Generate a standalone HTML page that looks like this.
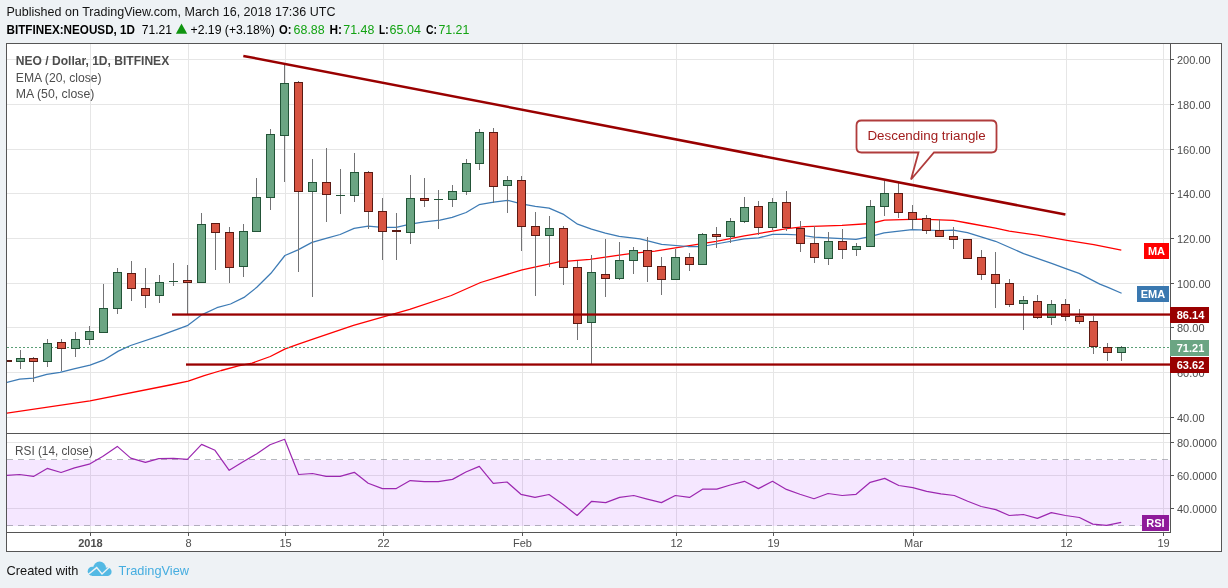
<!DOCTYPE html><html><head><meta charset="utf-8"><style>html,body{margin:0;padding:0;background:#eef2f5;}svg{display:block;will-change:transform;}text{font-family:"Liberation Sans",sans-serif;}</style></head><body>
<svg width="1228" height="588" viewBox="0 0 1228 588" shape-rendering="auto">
<rect x="0" y="0" width="1228" height="588" fill="#eef2f5"/>
<rect x="6" y="43" width="1216" height="509" fill="#ffffff"/>
<rect x="90" y="44" width="1" height="488" fill="#e6e6e6"/>
<rect x="188" y="44" width="1" height="488" fill="#e6e6e6"/>
<rect x="285" y="44" width="1" height="488" fill="#e6e6e6"/>
<rect x="383" y="44" width="1" height="488" fill="#e6e6e6"/>
<rect x="522" y="44" width="1" height="488" fill="#e6e6e6"/>
<rect x="676" y="44" width="1" height="488" fill="#e6e6e6"/>
<rect x="773" y="44" width="1" height="488" fill="#e6e6e6"/>
<rect x="913" y="44" width="1" height="488" fill="#e6e6e6"/>
<rect x="1066" y="44" width="1" height="488" fill="#e6e6e6"/>
<rect x="1163" y="44" width="1" height="488" fill="#e6e6e6"/>
<rect x="7" y="59" width="1163" height="1" fill="#e6e6e6"/>
<rect x="7" y="104" width="1163" height="1" fill="#e6e6e6"/>
<rect x="7" y="149" width="1163" height="1" fill="#e6e6e6"/>
<rect x="7" y="193" width="1163" height="1" fill="#e6e6e6"/>
<rect x="7" y="238" width="1163" height="1" fill="#e6e6e6"/>
<rect x="7" y="283" width="1163" height="1" fill="#e6e6e6"/>
<rect x="7" y="327" width="1163" height="1" fill="#e6e6e6"/>
<rect x="7" y="372" width="1163" height="1" fill="#e6e6e6"/>
<rect x="7" y="417" width="1163" height="1" fill="#e6e6e6"/>
<rect x="7" y="442" width="1163" height="1" fill="#e6e6e6"/>
<rect x="7" y="475" width="1163" height="1" fill="#e6e6e6"/>
<rect x="7" y="508" width="1163" height="1" fill="#e6e6e6"/>
<rect x="7" y="460" width="1163" height="66" fill="#9915ff" fill-opacity="0.1"/>
<line x1="7" y1="459.5" x2="1170" y2="459.5" stroke="#787b86" stroke-opacity="0.55" stroke-width="1" stroke-dasharray="6,5"/>
<line x1="7" y1="525.5" x2="1170" y2="525.5" stroke="#787b86" stroke-opacity="0.55" stroke-width="1" stroke-dasharray="6,5"/>
<defs><clipPath id="cm"><rect x="7" y="44" width="1163" height="389"/></clipPath><clipPath id="cr"><rect x="7" y="434" width="1163" height="98"/></clipPath></defs>
<g clip-path="url(#cm)">
<polyline points="6.9,413.2 90.0,400.9 170.0,385.0 188.2,381.1 204.2,375.6 221.3,370.5 238.4,365.9 252.1,363.1 270.3,356.5 285.2,348.8 297.7,344.3 314.4,338.7 353.5,325.3 409.7,309.4 451.3,295.5 480.6,282.5 522.1,269.8 558.8,261.8 590.0,259.3 632.0,253.3 655.0,251.1 688.0,245.8 716.2,241.4 744.3,235.8 772.6,231.2 786.6,228.7 805.0,226.6 842.0,225.3 870.6,223.5 884.6,220.2 920.0,219.1 953.2,220.4 967.4,223.0 995.5,228.1 1009.3,231.1 1037.3,235.2 1067.0,240.4 1093.8,244.7 1121.3,250.1" fill="none" stroke="#ff0000" stroke-width="1.3" stroke-linejoin="round"/>
<polyline points="6.9,382.4 19.7,379.2 33.3,378.2 46.8,374.3 60.0,372.3 73.9,368.9 90.0,365.2 103.5,360.2 118.3,351.1 130.6,345.5 160.2,335.6 187.3,325.7 202.1,314.6 216.9,307.7 230.5,304.0 244.0,297.4 256.8,287.3 270.9,273.3 284.9,255.5 298.0,249.9 312.0,242.4 326.1,238.3 340.1,234.5 354.1,228.4 368.2,226.1 382.2,227.4 396.2,227.4 410.2,224.2 424.3,221.8 440.0,220.1 452.2,217.4 466.1,212.5 479.1,204.7 493.7,202.2 507.6,200.3 521.4,203.8 535.3,206.3 549.1,208.2 563.0,214.1 577.6,224.2 591.5,229.1 605.3,233.2 619.2,236.4 640.0,238.9 661.6,244.3 688.0,246.5 702.0,246.5 716.0,244.0 744.0,238.9 758.6,237.9 772.6,234.3 786.6,234.3 800.0,235.0 814.0,237.2 856.0,239.3 870.0,236.7 884.0,232.9 912.0,229.6 940.0,230.5 953.2,230.1 967.4,232.7 995.5,241.3 1023.6,253.6 1051.6,263.3 1066.5,268.8 1079.1,273.4 1099.8,284.1 1107.4,287.1 1121.6,293.3" fill="none" stroke="#3d7bb5" stroke-width="1.25" stroke-linejoin="round"/>
<line x1="7" y1="347.5" x2="1170" y2="347.5" stroke="#5a9f76" stroke-width="1" stroke-dasharray="2,2"/>
<rect x="7" y="360" width="1" height="2" fill="#737375"/>
<rect x="3" y="360" width="9" height="2" fill="#5b1a13"/>
<rect x="20" y="350" width="1" height="19" fill="#737375"/>
<rect x="16" y="358" width="9" height="4" fill="#225437"/>
<rect x="17" y="359" width="7" height="2" fill="#6ba583"/>
<rect x="33" y="357" width="1" height="25" fill="#737375"/>
<rect x="29" y="358" width="9" height="4" fill="#5b1a13"/>
<rect x="30" y="359" width="7" height="2" fill="#d75442"/>
<rect x="47" y="339" width="1" height="28" fill="#737375"/>
<rect x="43" y="343" width="9" height="19" fill="#225437"/>
<rect x="44" y="344" width="7" height="17" fill="#6ba583"/>
<rect x="61" y="339" width="1" height="32" fill="#737375"/>
<rect x="57" y="342" width="9" height="7" fill="#5b1a13"/>
<rect x="58" y="343" width="7" height="5" fill="#d75442"/>
<rect x="75" y="332" width="1" height="25" fill="#737375"/>
<rect x="71" y="339" width="9" height="10" fill="#225437"/>
<rect x="72" y="340" width="7" height="8" fill="#6ba583"/>
<rect x="89" y="326" width="1" height="19" fill="#737375"/>
<rect x="85" y="331" width="9" height="9" fill="#225437"/>
<rect x="86" y="332" width="7" height="7" fill="#6ba583"/>
<rect x="103" y="284" width="1" height="49" fill="#737375"/>
<rect x="99" y="308" width="9" height="25" fill="#225437"/>
<rect x="100" y="309" width="7" height="23" fill="#6ba583"/>
<rect x="117" y="268" width="1" height="46" fill="#737375"/>
<rect x="113" y="272" width="9" height="37" fill="#225437"/>
<rect x="114" y="273" width="7" height="35" fill="#6ba583"/>
<rect x="131" y="261" width="1" height="40" fill="#737375"/>
<rect x="127" y="273" width="9" height="16" fill="#5b1a13"/>
<rect x="128" y="274" width="7" height="14" fill="#d75442"/>
<rect x="145" y="268" width="1" height="40" fill="#737375"/>
<rect x="141" y="288" width="9" height="8" fill="#5b1a13"/>
<rect x="142" y="289" width="7" height="6" fill="#d75442"/>
<rect x="159" y="275" width="1" height="28" fill="#737375"/>
<rect x="155" y="282" width="9" height="14" fill="#225437"/>
<rect x="156" y="283" width="7" height="12" fill="#6ba583"/>
<rect x="173" y="263" width="1" height="23" fill="#737375"/>
<rect x="169" y="281" width="9" height="1" fill="#225437"/>
<rect x="187" y="265" width="1" height="49" fill="#737375"/>
<rect x="183" y="280" width="9" height="3" fill="#5b1a13"/>
<rect x="184" y="281" width="7" height="1" fill="#d75442"/>
<rect x="201" y="213" width="1" height="70" fill="#737375"/>
<rect x="197" y="224" width="9" height="59" fill="#225437"/>
<rect x="198" y="225" width="7" height="57" fill="#6ba583"/>
<rect x="215" y="223" width="1" height="47" fill="#737375"/>
<rect x="211" y="223" width="9" height="10" fill="#5b1a13"/>
<rect x="212" y="224" width="7" height="8" fill="#d75442"/>
<rect x="229" y="227" width="1" height="56" fill="#737375"/>
<rect x="225" y="232" width="9" height="36" fill="#5b1a13"/>
<rect x="226" y="233" width="7" height="34" fill="#d75442"/>
<rect x="243" y="224" width="1" height="53" fill="#737375"/>
<rect x="239" y="231" width="9" height="36" fill="#225437"/>
<rect x="240" y="232" width="7" height="34" fill="#6ba583"/>
<rect x="256" y="178" width="1" height="54" fill="#737375"/>
<rect x="252" y="197" width="9" height="35" fill="#225437"/>
<rect x="253" y="198" width="7" height="33" fill="#6ba583"/>
<rect x="270" y="129" width="1" height="81" fill="#737375"/>
<rect x="266" y="134" width="9" height="64" fill="#225437"/>
<rect x="267" y="135" width="7" height="62" fill="#6ba583"/>
<rect x="284" y="64" width="1" height="118" fill="#737375"/>
<rect x="280" y="83" width="9" height="53" fill="#225437"/>
<rect x="281" y="84" width="7" height="51" fill="#6ba583"/>
<rect x="298" y="81" width="1" height="191" fill="#737375"/>
<rect x="294" y="82" width="9" height="110" fill="#5b1a13"/>
<rect x="295" y="83" width="7" height="108" fill="#d75442"/>
<rect x="312" y="159" width="1" height="138" fill="#737375"/>
<rect x="308" y="182" width="9" height="10" fill="#225437"/>
<rect x="309" y="183" width="7" height="8" fill="#6ba583"/>
<rect x="326" y="148" width="1" height="74" fill="#737375"/>
<rect x="322" y="182" width="9" height="13" fill="#5b1a13"/>
<rect x="323" y="183" width="7" height="11" fill="#d75442"/>
<rect x="340" y="169" width="1" height="45" fill="#737375"/>
<rect x="336" y="195" width="9" height="1" fill="#225437"/>
<rect x="354" y="153" width="1" height="49" fill="#737375"/>
<rect x="350" y="172" width="9" height="24" fill="#225437"/>
<rect x="351" y="173" width="7" height="22" fill="#6ba583"/>
<rect x="368" y="171" width="1" height="58" fill="#737375"/>
<rect x="364" y="172" width="9" height="40" fill="#5b1a13"/>
<rect x="365" y="173" width="7" height="38" fill="#d75442"/>
<rect x="382" y="198" width="1" height="62" fill="#737375"/>
<rect x="378" y="211" width="9" height="21" fill="#5b1a13"/>
<rect x="379" y="212" width="7" height="19" fill="#d75442"/>
<rect x="396" y="213" width="1" height="47" fill="#737375"/>
<rect x="392" y="230" width="9" height="2" fill="#5b1a13"/>
<rect x="410" y="175" width="1" height="69" fill="#737375"/>
<rect x="406" y="198" width="9" height="35" fill="#225437"/>
<rect x="407" y="199" width="7" height="33" fill="#6ba583"/>
<rect x="424" y="178" width="1" height="29" fill="#737375"/>
<rect x="420" y="198" width="9" height="3" fill="#5b1a13"/>
<rect x="421" y="199" width="7" height="1" fill="#d75442"/>
<rect x="438" y="190" width="1" height="39" fill="#737375"/>
<rect x="434" y="199" width="9" height="1" fill="#225437"/>
<rect x="452" y="185" width="1" height="22" fill="#737375"/>
<rect x="448" y="191" width="9" height="9" fill="#225437"/>
<rect x="449" y="192" width="7" height="7" fill="#6ba583"/>
<rect x="466" y="159" width="1" height="36" fill="#737375"/>
<rect x="462" y="163" width="9" height="29" fill="#225437"/>
<rect x="463" y="164" width="7" height="27" fill="#6ba583"/>
<rect x="479" y="129" width="1" height="41" fill="#737375"/>
<rect x="475" y="132" width="9" height="32" fill="#225437"/>
<rect x="476" y="133" width="7" height="30" fill="#6ba583"/>
<rect x="493" y="128" width="1" height="75" fill="#737375"/>
<rect x="489" y="132" width="9" height="55" fill="#5b1a13"/>
<rect x="490" y="133" width="7" height="53" fill="#d75442"/>
<rect x="507" y="176" width="1" height="37" fill="#737375"/>
<rect x="503" y="180" width="9" height="6" fill="#225437"/>
<rect x="504" y="181" width="7" height="4" fill="#6ba583"/>
<rect x="521" y="176" width="1" height="75" fill="#737375"/>
<rect x="517" y="180" width="9" height="47" fill="#5b1a13"/>
<rect x="518" y="181" width="7" height="45" fill="#d75442"/>
<rect x="535" y="212" width="1" height="84" fill="#737375"/>
<rect x="531" y="226" width="9" height="10" fill="#5b1a13"/>
<rect x="532" y="227" width="7" height="8" fill="#d75442"/>
<rect x="549" y="216" width="1" height="51" fill="#737375"/>
<rect x="545" y="228" width="9" height="8" fill="#225437"/>
<rect x="546" y="229" width="7" height="6" fill="#6ba583"/>
<rect x="563" y="226" width="1" height="59" fill="#737375"/>
<rect x="559" y="228" width="9" height="40" fill="#5b1a13"/>
<rect x="560" y="229" width="7" height="38" fill="#d75442"/>
<rect x="577" y="261" width="1" height="79" fill="#737375"/>
<rect x="573" y="267" width="9" height="57" fill="#5b1a13"/>
<rect x="574" y="268" width="7" height="55" fill="#d75442"/>
<rect x="591" y="255" width="1" height="109" fill="#737375"/>
<rect x="587" y="272" width="9" height="51" fill="#225437"/>
<rect x="588" y="273" width="7" height="49" fill="#6ba583"/>
<rect x="605" y="239" width="1" height="58" fill="#737375"/>
<rect x="601" y="274" width="9" height="5" fill="#5b1a13"/>
<rect x="602" y="275" width="7" height="3" fill="#d75442"/>
<rect x="619" y="242" width="1" height="38" fill="#737375"/>
<rect x="615" y="260" width="9" height="19" fill="#225437"/>
<rect x="616" y="261" width="7" height="17" fill="#6ba583"/>
<rect x="633" y="247" width="1" height="27" fill="#737375"/>
<rect x="629" y="250" width="9" height="11" fill="#225437"/>
<rect x="630" y="251" width="7" height="9" fill="#6ba583"/>
<rect x="647" y="237" width="1" height="45" fill="#737375"/>
<rect x="643" y="250" width="9" height="17" fill="#5b1a13"/>
<rect x="644" y="251" width="7" height="15" fill="#d75442"/>
<rect x="661" y="257" width="1" height="38" fill="#737375"/>
<rect x="657" y="266" width="9" height="14" fill="#5b1a13"/>
<rect x="658" y="267" width="7" height="12" fill="#d75442"/>
<rect x="675" y="249" width="1" height="31" fill="#737375"/>
<rect x="671" y="257" width="9" height="23" fill="#225437"/>
<rect x="672" y="258" width="7" height="21" fill="#6ba583"/>
<rect x="689" y="253" width="1" height="18" fill="#737375"/>
<rect x="685" y="257" width="9" height="8" fill="#5b1a13"/>
<rect x="686" y="258" width="7" height="6" fill="#d75442"/>
<rect x="702" y="233" width="1" height="32" fill="#737375"/>
<rect x="698" y="234" width="9" height="31" fill="#225437"/>
<rect x="699" y="235" width="7" height="29" fill="#6ba583"/>
<rect x="716" y="227" width="1" height="21" fill="#737375"/>
<rect x="712" y="234" width="9" height="3" fill="#5b1a13"/>
<rect x="713" y="235" width="7" height="1" fill="#d75442"/>
<rect x="730" y="218" width="1" height="25" fill="#737375"/>
<rect x="726" y="221" width="9" height="16" fill="#225437"/>
<rect x="727" y="222" width="7" height="14" fill="#6ba583"/>
<rect x="744" y="197" width="1" height="26" fill="#737375"/>
<rect x="740" y="207" width="9" height="15" fill="#225437"/>
<rect x="741" y="208" width="7" height="13" fill="#6ba583"/>
<rect x="758" y="201" width="1" height="34" fill="#737375"/>
<rect x="754" y="206" width="9" height="22" fill="#5b1a13"/>
<rect x="755" y="207" width="7" height="20" fill="#d75442"/>
<rect x="772" y="198" width="1" height="32" fill="#737375"/>
<rect x="768" y="202" width="9" height="26" fill="#225437"/>
<rect x="769" y="203" width="7" height="24" fill="#6ba583"/>
<rect x="786" y="191" width="1" height="40" fill="#737375"/>
<rect x="782" y="202" width="9" height="26" fill="#5b1a13"/>
<rect x="783" y="203" width="7" height="24" fill="#d75442"/>
<rect x="800" y="221" width="1" height="31" fill="#737375"/>
<rect x="796" y="228" width="9" height="16" fill="#5b1a13"/>
<rect x="797" y="229" width="7" height="14" fill="#d75442"/>
<rect x="814" y="226" width="1" height="37" fill="#737375"/>
<rect x="810" y="243" width="9" height="15" fill="#5b1a13"/>
<rect x="811" y="244" width="7" height="13" fill="#d75442"/>
<rect x="828" y="232" width="1" height="33" fill="#737375"/>
<rect x="824" y="241" width="9" height="18" fill="#225437"/>
<rect x="825" y="242" width="7" height="16" fill="#6ba583"/>
<rect x="842" y="229" width="1" height="30" fill="#737375"/>
<rect x="838" y="241" width="9" height="9" fill="#5b1a13"/>
<rect x="839" y="242" width="7" height="7" fill="#d75442"/>
<rect x="856" y="243" width="1" height="13" fill="#737375"/>
<rect x="852" y="246" width="9" height="4" fill="#225437"/>
<rect x="853" y="247" width="7" height="2" fill="#6ba583"/>
<rect x="870" y="200" width="1" height="47" fill="#737375"/>
<rect x="866" y="206" width="9" height="41" fill="#225437"/>
<rect x="867" y="207" width="7" height="39" fill="#6ba583"/>
<rect x="884" y="181" width="1" height="35" fill="#737375"/>
<rect x="880" y="193" width="9" height="14" fill="#225437"/>
<rect x="881" y="194" width="7" height="12" fill="#6ba583"/>
<rect x="898" y="183" width="1" height="35" fill="#737375"/>
<rect x="894" y="193" width="9" height="20" fill="#5b1a13"/>
<rect x="895" y="194" width="7" height="18" fill="#d75442"/>
<rect x="912" y="205" width="1" height="24" fill="#737375"/>
<rect x="908" y="212" width="9" height="8" fill="#5b1a13"/>
<rect x="909" y="213" width="7" height="6" fill="#d75442"/>
<rect x="926" y="215" width="1" height="19" fill="#737375"/>
<rect x="922" y="218" width="9" height="13" fill="#5b1a13"/>
<rect x="923" y="219" width="7" height="11" fill="#d75442"/>
<rect x="939" y="219" width="1" height="18" fill="#737375"/>
<rect x="935" y="230" width="9" height="7" fill="#5b1a13"/>
<rect x="936" y="231" width="7" height="5" fill="#d75442"/>
<rect x="953" y="227" width="1" height="22" fill="#737375"/>
<rect x="949" y="236" width="9" height="4" fill="#5b1a13"/>
<rect x="950" y="237" width="7" height="2" fill="#d75442"/>
<rect x="967" y="239" width="1" height="20" fill="#737375"/>
<rect x="963" y="239" width="9" height="20" fill="#5b1a13"/>
<rect x="964" y="240" width="7" height="18" fill="#d75442"/>
<rect x="981" y="250" width="1" height="30" fill="#737375"/>
<rect x="977" y="257" width="9" height="18" fill="#5b1a13"/>
<rect x="978" y="258" width="7" height="16" fill="#d75442"/>
<rect x="995" y="252" width="1" height="56" fill="#737375"/>
<rect x="991" y="274" width="9" height="10" fill="#5b1a13"/>
<rect x="992" y="275" width="7" height="8" fill="#d75442"/>
<rect x="1009" y="279" width="1" height="28" fill="#737375"/>
<rect x="1005" y="283" width="9" height="22" fill="#5b1a13"/>
<rect x="1006" y="284" width="7" height="20" fill="#d75442"/>
<rect x="1023" y="296" width="1" height="34" fill="#737375"/>
<rect x="1019" y="300" width="9" height="4" fill="#225437"/>
<rect x="1020" y="301" width="7" height="2" fill="#6ba583"/>
<rect x="1037" y="295" width="1" height="24" fill="#737375"/>
<rect x="1033" y="301" width="9" height="17" fill="#5b1a13"/>
<rect x="1034" y="302" width="7" height="15" fill="#d75442"/>
<rect x="1051" y="300" width="1" height="25" fill="#737375"/>
<rect x="1047" y="304" width="9" height="14" fill="#225437"/>
<rect x="1048" y="305" width="7" height="12" fill="#6ba583"/>
<rect x="1065" y="299" width="1" height="22" fill="#737375"/>
<rect x="1061" y="304" width="9" height="13" fill="#5b1a13"/>
<rect x="1062" y="305" width="7" height="11" fill="#d75442"/>
<rect x="1079" y="309" width="1" height="15" fill="#737375"/>
<rect x="1075" y="316" width="9" height="6" fill="#5b1a13"/>
<rect x="1076" y="317" width="7" height="4" fill="#d75442"/>
<rect x="1093" y="316" width="1" height="38" fill="#737375"/>
<rect x="1089" y="321" width="9" height="26" fill="#5b1a13"/>
<rect x="1090" y="322" width="7" height="24" fill="#d75442"/>
<rect x="1107" y="343" width="1" height="18" fill="#737375"/>
<rect x="1103" y="347" width="9" height="6" fill="#5b1a13"/>
<rect x="1104" y="348" width="7" height="4" fill="#d75442"/>
<rect x="1121" y="346" width="1" height="15" fill="#737375"/>
<rect x="1117" y="347" width="9" height="6" fill="#225437"/>
<rect x="1118" y="348" width="7" height="4" fill="#6ba583"/>
<rect x="172" y="313.4" width="998" height="2.3" fill="#990000"/>
<rect x="186" y="363.4" width="984" height="2.3" fill="#990000"/>
<line x1="243.3" y1="55.9" x2="1065.4" y2="214.5" stroke="#990000" stroke-width="2.5" stroke-linecap="butt"/>
</g>
<path d="M861.5,120.5 H991.5 Q996.5,120.5 996.5,125.5 V147.5 Q996.5,152.5 991.5,152.5 H934 L911,179.5 L918.5,152.5 H861.5 Q856.5,152.5 856.5,147.5 V125.5 Q856.5,120.5 861.5,120.5 Z" fill="none" stroke="#b03c3c" stroke-width="1.8" stroke-linejoin="miter"/>
<text x="867.4" y="139.7" font-size="12" fill="#a11d1d" textLength="118.4" lengthAdjust="spacingAndGlyphs">Descending triangle</text>
<g clip-path="url(#cr)">
<polyline points="6.8,475.4 19.5,474.5 33.5,476.4 47.2,468.4 61.1,472.5 74.5,467.9 89.2,464.2 102.6,456.4 117.3,446.4 130.7,458.1 145.4,462.3 158.8,458.6 173.5,458.3 187.4,459.3 201.6,444.4 215.0,450.3 229.2,470.3 243.1,461.8 256.5,453.9 270.0,444.7 284.6,439.3 298.6,474.5 312.5,473.5 326.2,476.4 340.1,476.4 354.3,472.3 368.2,483.3 382.4,488.6 396.3,488.6 410.2,480.6 424.4,481.6 438.3,481.6 452.5,479.4 465.9,472.0 479.3,466.4 493.3,483.3 507.0,482.0 520.9,494.3 535.0,497.4 549.0,494.5 563.2,504.5 577.1,515.5 591.7,501.3 605.7,502.6 619.6,497.4 633.8,495.5 647.2,499.1 661.4,502.6 675.3,495.5 689.5,497.4 702.9,489.1 716.8,489.1 730.3,485.0 744.4,481.3 758.4,488.6 772.5,481.3 786.4,489.4 799.9,494.3 814.0,498.7 828.0,493.5 842.2,495.5 856.1,494.3 870.2,482.3 884.7,478.4 898.8,485.5 912.8,487.7 926.7,491.3 940.9,493.8 954.3,495.5 967.7,501.3 981.2,506.5 995.8,509.6 1009.3,515.5 1023.4,514.5 1037.4,518.4 1051.3,512.6 1065.5,515.5 1079.4,517.5 1092.8,524.1 1106.5,525.3 1121.2,522.4" fill="none" stroke="#9c27b0" stroke-width="1.2" stroke-linejoin="round"/>
</g>
<rect x="6" y="43" width="1216" height="1" fill="#555555"/>
<rect x="6" y="551" width="1216" height="1" fill="#555555"/>
<rect x="6" y="43" width="1" height="509" fill="#555555"/>
<rect x="1221" y="43" width="1" height="509" fill="#555555"/>
<rect x="1170" y="43" width="1" height="490" fill="#555555"/>
<rect x="6" y="433" width="1165" height="1" fill="#555555"/>
<rect x="6" y="532" width="1165" height="1" fill="#555555"/>
<rect x="1171" y="59" width="3" height="1" fill="#555555"/>
<text x="1177" y="64.0" font-size="11" fill="#4d4d4d">200.00</text>
<rect x="1171" y="104" width="3" height="1" fill="#555555"/>
<text x="1177" y="109.0" font-size="11" fill="#4d4d4d">180.00</text>
<rect x="1171" y="149" width="3" height="1" fill="#555555"/>
<text x="1177" y="154.0" font-size="11" fill="#4d4d4d">160.00</text>
<rect x="1171" y="193" width="3" height="1" fill="#555555"/>
<text x="1177" y="198.0" font-size="11" fill="#4d4d4d">140.00</text>
<rect x="1171" y="238" width="3" height="1" fill="#555555"/>
<text x="1177" y="243.0" font-size="11" fill="#4d4d4d">120.00</text>
<rect x="1171" y="283" width="3" height="1" fill="#555555"/>
<text x="1177" y="288.0" font-size="11" fill="#4d4d4d">100.00</text>
<rect x="1171" y="327" width="3" height="1" fill="#555555"/>
<text x="1177" y="332.0" font-size="11" fill="#4d4d4d">80.00</text>
<rect x="1171" y="372" width="3" height="1" fill="#555555"/>
<text x="1177" y="377.0" font-size="11" fill="#4d4d4d">60.00</text>
<rect x="1171" y="417" width="3" height="1" fill="#555555"/>
<text x="1177" y="422.0" font-size="11" fill="#4d4d4d">40.00</text>
<rect x="1171" y="442" width="3" height="1" fill="#555555"/>
<text x="1177" y="447.0" font-size="11" fill="#4d4d4d">80.0000</text>
<rect x="1171" y="475" width="3" height="1" fill="#555555"/>
<text x="1177" y="480.0" font-size="11" fill="#4d4d4d">60.0000</text>
<rect x="1171" y="508" width="3" height="1" fill="#555555"/>
<text x="1177" y="513.0" font-size="11" fill="#4d4d4d">40.0000</text>
<rect x="90" y="533" width="1" height="3" fill="#555555"/>
<text x="90.5" y="546.8" font-size="11" fill="#4d4d4d" text-anchor="middle" font-weight="bold">2018</text>
<rect x="188" y="533" width="1" height="3" fill="#555555"/>
<text x="188.5" y="546.8" font-size="11" fill="#4d4d4d" text-anchor="middle">8</text>
<rect x="285" y="533" width="1" height="3" fill="#555555"/>
<text x="285.5" y="546.8" font-size="11" fill="#4d4d4d" text-anchor="middle">15</text>
<rect x="383" y="533" width="1" height="3" fill="#555555"/>
<text x="383.5" y="546.8" font-size="11" fill="#4d4d4d" text-anchor="middle">22</text>
<rect x="522" y="533" width="1" height="3" fill="#555555"/>
<text x="522.5" y="546.8" font-size="11" fill="#4d4d4d" text-anchor="middle">Feb</text>
<rect x="676" y="533" width="1" height="3" fill="#555555"/>
<text x="676.5" y="546.8" font-size="11" fill="#4d4d4d" text-anchor="middle">12</text>
<rect x="773" y="533" width="1" height="3" fill="#555555"/>
<text x="773.5" y="546.8" font-size="11" fill="#4d4d4d" text-anchor="middle">19</text>
<rect x="913" y="533" width="1" height="3" fill="#555555"/>
<text x="913.5" y="546.8" font-size="11" fill="#4d4d4d" text-anchor="middle">Mar</text>
<rect x="1066" y="533" width="1" height="3" fill="#555555"/>
<text x="1066.5" y="546.8" font-size="11" fill="#4d4d4d" text-anchor="middle">12</text>
<rect x="1163" y="533" width="1" height="3" fill="#555555"/>
<text x="1163.5" y="546.8" font-size="11" fill="#4d4d4d" text-anchor="middle">19</text>
<rect x="1144" y="243" width="25" height="16" fill="#ff0000"/>
<text x="1156.5" y="255.0" font-size="11" font-weight="bold" fill="#ffffff" text-anchor="middle">MA</text>
<rect x="1137" y="286" width="32" height="16" fill="#3a78b0"/>
<text x="1153.0" y="298.0" font-size="11" font-weight="bold" fill="#ffffff" text-anchor="middle">EMA</text>
<rect x="1170" y="307" width="39" height="16" fill="#990000"/>
<text x="1190.5" y="319.0" font-size="11" font-weight="bold" fill="#ffffff" text-anchor="middle">86.14</text>
<rect x="1170" y="340" width="39" height="16" fill="#6ba583"/>
<text x="1190.5" y="352.0" font-size="11" font-weight="bold" fill="#ffffff" text-anchor="middle">71.21</text>
<rect x="1170" y="357" width="39" height="16" fill="#990000"/>
<text x="1190.5" y="369.0" font-size="11" font-weight="bold" fill="#ffffff" text-anchor="middle">63.62</text>
<rect x="1142" y="515" width="27" height="16" fill="#8e1a9a"/>
<text x="1155.5" y="527.0" font-size="11" font-weight="bold" fill="#ffffff" text-anchor="middle">RSI</text>
<text x="15.8" y="64.9" font-size="12" font-weight="bold" fill="#4d4d4d" textLength="153.4" lengthAdjust="spacingAndGlyphs">NEO / Dollar, 1D, BITFINEX</text>
<text x="15.8" y="81.9" font-size="12" fill="#4d4d4d" textLength="85.8" lengthAdjust="spacingAndGlyphs">EMA (20, close)</text>
<text x="15.8" y="98.1" font-size="12" fill="#4d4d4d" textLength="78.6" lengthAdjust="spacingAndGlyphs">MA (50, close)</text>
<text x="15.1" y="454.9" font-size="12" fill="#4d4d4d" textLength="77.7" lengthAdjust="spacingAndGlyphs">RSI (14, close)</text>
<text x="6.5" y="15.8" font-size="12.5" fill="#131313" textLength="329.0" lengthAdjust="spacingAndGlyphs">Published on TradingView.com, March 16, 2018 17:36 UTC</text>
<text x="6.5" y="33.7" font-size="12.5" fill="#000000" font-weight="bold" textLength="128.5" lengthAdjust="spacingAndGlyphs">BITFINEX:NEOUSD, 1D</text>
<text x="141.7" y="33.7" font-size="12.5" fill="#000000" textLength="30.3" lengthAdjust="spacingAndGlyphs">71.21</text>
<path d="M175.9,33.7 L181.5,23.5 L187.2,33.7 Z" fill="#109410"/>
<text x="190.5" y="33.7" font-size="12.5" fill="#000000" textLength="84.3" lengthAdjust="spacingAndGlyphs">+2.19 (+3.18%)</text>
<text x="279.0" y="33.7" font-size="12.5" fill="#000000" font-weight="bold" textLength="12.5" lengthAdjust="spacingAndGlyphs">O:</text>
<text x="293.6" y="33.7" font-size="12.5" fill="#12a312" textLength="31.1" lengthAdjust="spacingAndGlyphs">68.88</text>
<text x="329.5" y="33.7" font-size="12.5" fill="#000000" font-weight="bold" textLength="12.5" lengthAdjust="spacingAndGlyphs">H:</text>
<text x="343.3" y="33.7" font-size="12.5" fill="#12a312" textLength="31.0" lengthAdjust="spacingAndGlyphs">71.48</text>
<text x="379.0" y="33.7" font-size="12.5" fill="#000000" font-weight="bold" textLength="9.5" lengthAdjust="spacingAndGlyphs">L:</text>
<text x="389.6" y="33.7" font-size="12.5" fill="#12a312" textLength="31.4" lengthAdjust="spacingAndGlyphs">65.04</text>
<text x="426.0" y="33.7" font-size="12.5" fill="#000000" font-weight="bold" textLength="11.0" lengthAdjust="spacingAndGlyphs">C:</text>
<text x="438.4" y="33.7" font-size="12.5" fill="#12a312" textLength="31.0" lengthAdjust="spacingAndGlyphs">71.21</text>
<text x="6.5" y="575.0" font-size="13.5" fill="#131313" textLength="72.0" lengthAdjust="spacingAndGlyphs">Created with</text>
<g fill="#53b9e4"><circle cx="92.2" cy="571.3" r="4.5"/><circle cx="99.6" cy="567.9" r="6.3"/><circle cx="107.3" cy="571.7" r="4.3"/><rect x="92" y="568" width="15.6" height="8"/></g>
<polyline points="87.5,575 96.7,567.6 102,574 111,565.5" fill="none" stroke="#eef2f5" stroke-width="1.4"/>
<text x="118.6" y="575.0" font-size="13.5" fill="#45ade0" textLength="70.4" lengthAdjust="spacingAndGlyphs">TradingView</text>
</svg></body></html>
